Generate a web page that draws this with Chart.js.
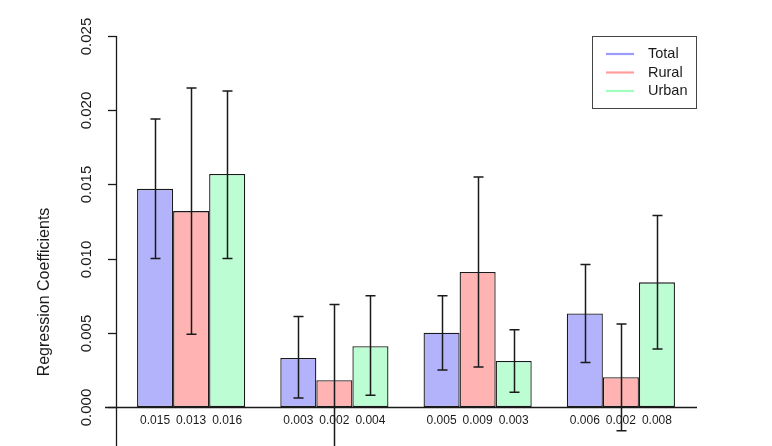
<!DOCTYPE html>
<html>
<head>
<meta charset="utf-8">
<script src="https://cdn.jsdelivr.net/npm/chart.js@4"></script>
<style>
  html,body{ margin:0; padding:0; background:#fff; }
  #wrap{ width:772px; height:446px; position:relative; }
</style>
</head>
<body>
<div id="wrap"><canvas id="ch-reg"></canvas></div>
<script>
// ── DATA ──
const groups=['G1','G2','G3','G4'];            // not printed in the figure
const seriesNames=['Total','Rural','Urban'];
const totalVals=[0.0147, 0.0033, 0.0050, 0.0063];
const ruralVals=[0.0132, 0.0018, 0.0091, 0.0020];
const urbanVals=[0.0157, 0.0041, 0.0031, 0.0084];
const totalLow =[0.0100, 0.0006, 0.0025, 0.0030];
const totalHigh=[0.0194, 0.0061, 0.0075, 0.0096];
const ruralLow =[0.0049,-0.0035, 0.0027,-0.0016];
const ruralHigh=[0.0215, 0.0069, 0.0155, 0.0056];
const urbanLow =[0.0100, 0.0008, 0.0010, 0.0039];
const urbanHigh=[0.0213, 0.0075, 0.0052, 0.0129];
const yTicks=[0, 0.005, 0.010, 0.015, 0.020, 0.025];

const FONT='"Liberation Sans", Arial, sans-serif';
const fills=['#b3b3fb','#ffb3b3','#bcfdd3'];
const legendCols=['#9c9cff','#ff9c9c','#9effbf'];
const lows=[totalLow,ruralLow,urbanLow], highs=[totalHigh,ruralHigh,urbanHigh];

// axes, error bars, value labels, legend drawn by hand (R-style base plot)
const basePlot={
  id:'basePlot',
  afterDatasetsDraw(chart){
    const ctx=chart.ctx, y=chart.scales.y;
    const y0=y.getPixelForValue(0);
    ctx.save();
    ctx.strokeStyle='#1a1a1a'; ctx.fillStyle='#1a1a1a';
    // error bars
    ctx.lineWidth=1.5;
    chart.data.datasets.forEach((ds,di)=>{
      chart.getDatasetMeta(di).data.forEach((bar,i)=>{
        const x=Math.round(bar.x)+0.5;
        const yl=y.getPixelForValue(lows[di][i]), yh=y.getPixelForValue(highs[di][i]);
        ctx.beginPath();
        ctx.moveTo(x,yh); ctx.lineTo(x,yl);
        ctx.moveTo(x-5,yh); ctx.lineTo(x+5,yh);
        ctx.moveTo(x-5,yl); ctx.lineTo(x+5,yl);
        ctx.stroke();
      });
    });
    // x axis line
    ctx.lineWidth=1.3;
    ctx.beginPath(); ctx.moveTo(105,y0+0.5); ctx.lineTo(697,y0+0.5); ctx.stroke();
    // y axis + ticks
    const ax=116.5;
    ctx.beginPath(); ctx.moveTo(ax,y.getPixelForValue(0.025)); ctx.lineTo(ax,446); ctx.stroke();
    ctx.font='15px '+FONT; ctx.textAlign='center'; ctx.textBaseline='middle';
    yTicks.forEach(t=>{
      const py=Math.round(y.getPixelForValue(t))+0.5;
      ctx.beginPath(); ctx.moveTo(108,py); ctx.lineTo(ax,py); ctx.stroke();
      ctx.save(); ctx.translate(87,py); ctx.rotate(-Math.PI/2);
      ctx.fillText(t.toFixed(3),0,0); ctx.restore();
    });
    // y title
    ctx.font='16px '+FONT;
    ctx.save(); ctx.translate(45,292); ctx.rotate(-Math.PI/2);
    ctx.fillText('Regression Coefficients',0,0); ctx.restore();
    // value labels under bars
    ctx.font='12px '+FONT;
    chart.data.datasets.forEach((ds,di)=>{
      chart.getDatasetMeta(di).data.forEach((bar,i)=>{
        ctx.fillText(ds.data[i].toFixed(3),bar.x,y0+14);
      });
    });
    // legend
    ctx.lineWidth=1;
    ctx.strokeStyle='#444';
    ctx.strokeRect(592.5,36.5,104,72);
    ctx.font='14.5px '+FONT; ctx.textAlign='left';
    seriesNames.forEach((n,k)=>{
      const ly=54+k*18.5;
      ctx.strokeStyle=legendCols[k]; ctx.lineWidth=2.2;
      ctx.beginPath(); ctx.moveTo(606,ly); ctx.lineTo(634,ly); ctx.stroke();
      ctx.fillStyle='#1a1a1a'; ctx.fillText(n,648,ly);
    });
    ctx.restore();
  }
};

new Chart(document.getElementById('ch-reg'),{
  type:'bar',
  data:{ labels:groups, datasets:[
    { label:seriesNames[0], data:totalVals, backgroundColor:fills[0] },
    { label:seriesNames[1], data:ruralVals, backgroundColor:fills[1] },
    { label:seriesNames[2], data:urbanVals, backgroundColor:fills[2] }
  ].map(d=>({ ...d, borderColor:'#1a1a1a', borderWidth:1.3, borderSkipped:false,
              categoryPercentage:0.755, barPercentage:1.0 })) },
  options:{
    responsive:true, maintainAspectRatio:false, animation:false,
    layout:{ padding:{ left:119.5, right:79.5, top:36, bottom:39 } },
    plugins:{ legend:{display:false}, tooltip:{enabled:false} },
    scales:{
      x:{ display:false, offset:true },
      y:{ display:false, min:0, max:0.025 }
    }
  },
  plugins:[basePlot]
});
</script>
</body>
</html>
